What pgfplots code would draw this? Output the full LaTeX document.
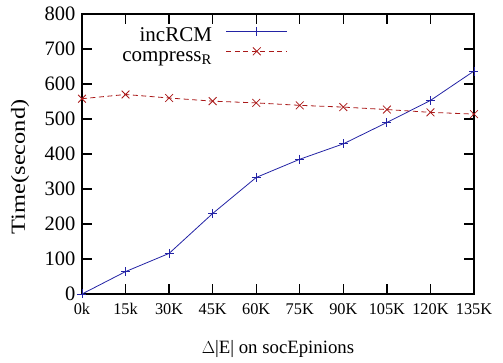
\documentclass[border=0pt]{standalone}
\usepackage{fontspec}
\setmainfont{Liberation Serif}
\usepackage{pgfplots}
\pgfplotsset{compat=1.18}
\definecolor{cblue}{RGB}{35,35,165}
\definecolor{cred}{RGB}{170,25,25}
\begin{document}
\begin{tikzpicture}
\useasboundingbox (-82pt,-69pt) rectangle (421pt,294pt);
\begin{axis}[
  scale only axis, width=392pt, height=280pt,
  at={(0,0)}, anchor=south west,
  xmin=0, xmax=9, ymin=0, ymax=800,
  xtick={0,...,9},
  xticklabels={0k,15k,30K,45K,60K,75K,90K,105K,120K,135K},
  ytick={0,100,...,800},
  tick align=inside, major tick length=10pt,
  axis line style={line width=1.4pt},
  every tick/.style={line width=1.4pt, black},
  /pgf/number format/assume math mode=true,
  yticklabel style={font=\fontsize{20.5}{22}\selectfont, xshift=-3pt},
  xticklabel style={font=\fontsize{16.3}{18}\selectfont, yshift=-6pt},
  xlabel={$\Delta$|E| on socEpinions},
  ylabel={\scalebox{1.22}[1]{Time(second)}},
  xlabel style={font=\fontsize{18.8}{20}\selectfont, at={(axis description cs:0.5,0)}, anchor=base, yshift=-60pt},
  ylabel style={font=\fontsize{20}{22}\selectfont, at={(axis description cs:-0.158,0.454)}, anchor=center},
  legend plot pos=right,
  legend cell align=right,
  legend style={draw=none, fill=none, at={(0.533,0.962)}, anchor=north east,
    font=\fontsize{21}{22}\selectfont, row sep=2pt, column sep=13pt,
    nodes={text height=13pt, text depth=3pt, inner sep=1pt}},
  legend image code/.code={\draw[#1] (0pt,5pt) -- (61pt,5pt); \draw[#1, solid] plot[only marks] coordinates {(30.5pt,5pt)};},
]
\addplot[cblue, line width=0.8pt, mark=+, mark size=4.5pt, mark options={solid}] coordinates {
(0,0) (1,64) (2,116) (3,230) (4,333) (5,385) (6,429) (7,490) (8,553) (9,637)};
\addlegendentry{incRCM}
\addplot[cred, line width=0.8pt, dash pattern=on 5pt off 3.5pt, mark=x, mark size=5.5pt, mark options={solid}] coordinates {
(0,558) (1,570) (2,560) (3,551) (4,546) (5,539) (6,534) (7,527) (8,519) (9,514)};
\addlegendentry{compress$_{\mathrm{R}}$}
\end{axis}
\end{tikzpicture}
\end{document}
